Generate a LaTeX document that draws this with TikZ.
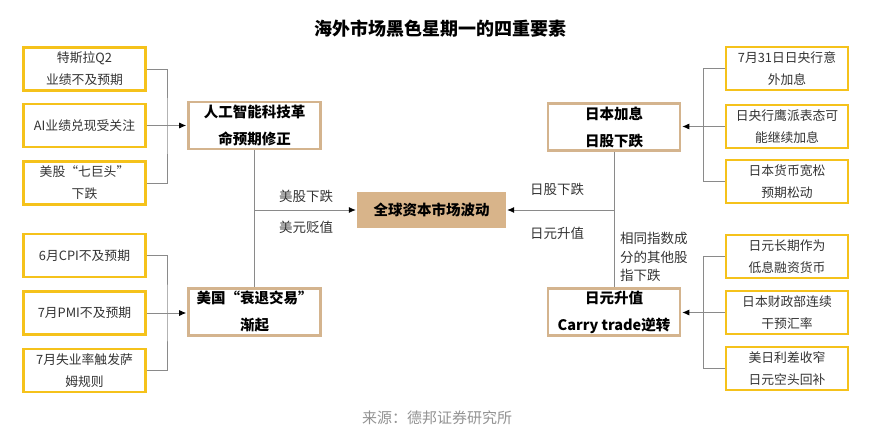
\documentclass[tikz,border=0pt]{standalone}
\usepackage{fontspec}
\setmainfont{Noto Sans CJK SC}
\usetikzlibrary{arrows.meta}
\definecolor{gold}{HTML}{F5C21B}
\definecolor{tan}{HTML}{D4B48E}
\definecolor{tanfill}{HTML}{D8B48A}
\definecolor{linegray}{HTML}{8A8A8A}
\definecolor{txt}{HTML}{333333}
\begin{document}
\begin{tikzpicture}[
  x=1pt, y=-1pt,
  cause/.style={rectangle, draw=gold, line width=2.6pt, fill=white, text=txt,
                minimum width=122pt, minimum height=43pt, align=center,
                inner sep=1pt, font=\fontsize{12.8}{22}\selectfont},
  factor/.style={rectangle, draw=tan, line width=2.6pt, fill=white, text=black,
                 minimum width=132pt, minimum height=47pt, align=center,
                 inner sep=1pt, font=\fontsize{14.5}{27}\selectfont\bfseries},
  hub/.style={rectangle, fill=tanfill, text=black, minimum width=149pt,
              minimum height=36pt, font=\fontsize{14.5}{16}\selectfont\bfseries},
  lbl/.style={text=txt, font=\fontsize{13.5}{18.5}\selectfont, align=left, inner sep=1pt},
  link/.style={draw=linegray, line width=0.8pt},
  arr/.style={link, -{Latex[length=7pt,width=6pt,black]}, shorten >=1pt}
]
  \useasboundingbox (0,0) rectangle (872,436);

  % Title
  \node[font=\fontsize{18}{20}\selectfont\bfseries] (title) at (440,29) {海外市场黑色星期一的四重要素};

  % Left causes
  \node[cause] (l1) at (84.5,69) {特斯拉Q2\\业绩不及预期};
  \node[cause] (l2) at (84.5,125.5) {AI业绩兑现受关注};
  \node[cause] (l3) at (84.5,183) {美股“七巨头”\\下跌};
  \node[cause] (l4) at (84.5,255.5) {6月CPI不及预期};
  \node[cause] (l5) at (84.5,313) {7月PMI不及预期};
  \node[cause] (l6) at (84.5,370.5) {7月失业率触发萨\\姆规则};

  % Right causes
  \node[cause] (r1) at (787,68.5) {7月31日日央行意\\外加息};
  \node[cause] (r2) at (787,126.5) {日央行鹰派表态可\\能继续加息};
  \node[cause] (r3) at (787,181.5) {日本货币宽松\\预期松动};
  \node[cause] (r4) at (787,256.5) {日元长期作为\\低息融资货币};
  \node[cause] (r5) at (787,312.5) {日本财政部连续\\干预汇率};
  \node[cause] (r6) at (787,368.5) {美日利差收窄\\日元空头回补};

  % Four factors
  \node[factor] (ai) at (254.5,125.5) {人工智能科技革\\命预期修正};
  \node[factor] (us) at (254.5,312) {美国“衰退交易”\\渐起};
  \node[factor] (jp) at (614,127) {日本加息\\日股下跌};
  \node[factor] (jy) at (614,312) {日元升值\\Carry trade逆转};

  % Centre
  \node[hub] (hub) at (431.5,210) {全球资本市场波动};

  % Brackets
  \coordinate (lbrA) at (167,125.5);
  \coordinate (lbrB) at (167,313);
  \coordinate (rbrA) at (703,126.5);
  \coordinate (rbrB) at (703,312.5);

  \draw[link] (l1.east) -| (lbrA) |- (l3.east);
  \draw[link] (l2.east) -- (lbrA);
  \draw[arr] (lbrA) -- (lbrA -| ai.west);
  \draw[link] (l4.east) -| (lbrB) |- (l6.east);
  \draw[link] (l5.east) -- (lbrB);
  \draw[arr] (lbrB) -- (lbrB -| us.west);

  \draw[link] (r1.west) -| (rbrA) |- (r3.west);
  \draw[link] (r2.west) -- (rbrA);
  \draw[arr] (rbrA) -- (rbrA -| jp.east);
  \draw[link] (r4.west) -| (rbrB) |- (r6.west);
  \draw[link] (r5.west) -- (rbrB);
  \draw[arr] (rbrB) -- (rbrB -| jy.east);

  % Into the centre
  \draw[link] (ai.south) -- (us.north);
  \draw[arr] (hub.west -| ai.south) -- (hub.west);
  \draw[link] (jp.south) -- (jy.north);
  \draw[arr] (hub.east -| jp.south) -- (hub.east);

  % Labels
  \node[lbl] (usdown) at (306,196) {美股下跌};
  \node[lbl] (usdfall) at (306,227) {美元贬值};
  \node[lbl] (jpdown) at (557,189) {日股下跌};
  \node[lbl] (jyup) at (557,233) {日元升值};
  \node[lbl, anchor=west] (others) at (619,257) {相同指数成\\分的其他股\\指下跌};

  % Source
  \node[text=gray!85, font=\fontsize{15}{17}\selectfont] (src) at (437,418) {来源：德邦证券研究所};
\end{tikzpicture}
\end{document}
